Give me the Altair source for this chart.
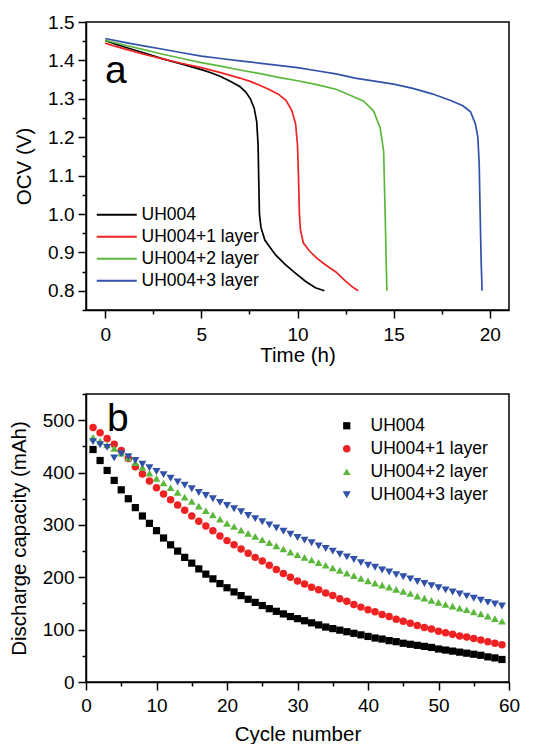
import altair as alt
import pandas as pd

FONT = "Liberation Sans"

series = ["UH004", "UH004+1 layer", "UH004+2 layer", "UH004+3 layer"]
colors = ["#000000", "#ee2222", "#5cb83c", "#3152a8"]
shapes = ["square", "circle", "triangle-up", "triangle-down"]
marker_sizes = [52, 64, 125, 125]

# ---- panel a: OCV vs time ----
t0 = [0, 0.5, 1, 2, 3, 4, 5, 5.5, 6, 6.5, 7, 7.3, 7.55, 7.75, 7.88, 7.95, 7.98, 8.02,
      8.1, 8.3, 8.85, 9.37, 9.89, 10.41, 10.93, 11.4]
v0 = [1.452, 1.443, 1.435, 1.420, 1.404, 1.390, 1.376, 1.368, 1.358, 1.346, 1.332, 1.318,
      1.300, 1.275, 1.240, 1.180, 1.100, 1.000, 0.965, 0.932, 0.894, 0.868, 0.846, 0.825,
      0.808, 0.800]
t1 = [0, 0.5, 1, 2, 3, 4, 5, 6, 7, 7.5, 8, 8.5, 9, 9.4, 9.7, 9.9, 10.0, 10.05, 10.1,
      10.15, 10.3, 10.6, 11.0, 11.5, 12.0, 12.4, 12.8, 13.15]
v1 = [1.445, 1.437, 1.430, 1.416, 1.404, 1.392, 1.381, 1.368, 1.354, 1.346, 1.336, 1.325,
      1.312, 1.296, 1.270, 1.235, 1.180, 1.100, 1.000, 0.960, 0.925, 0.905, 0.885, 0.866,
      0.849, 0.830, 0.812, 0.800]
t2 = [0, 1, 2, 3, 4, 5, 6, 7, 8, 9, 10, 11, 12, 12.8, 13.44, 13.96, 14.3, 14.48, 14.56,
      14.61, 14.65]
v2 = [1.452, 1.440, 1.428, 1.416, 1.405, 1.394, 1.385, 1.375, 1.366, 1.356, 1.347, 1.337,
      1.325, 1.308, 1.294, 1.268, 1.224, 1.163, 1.000, 0.880, 0.800]
t3 = [0, 1, 2, 3, 4, 5, 6, 7, 8, 9, 10, 11, 12, 13, 14, 15, 16, 17, 18, 18.6, 19.0, 19.25,
      19.38, 19.45, 19.5, 19.55, 19.6]
v3 = [1.457, 1.447, 1.438, 1.429, 1.420, 1.411, 1.405, 1.399, 1.393, 1.387, 1.381, 1.373,
      1.365, 1.354, 1.346, 1.338, 1.327, 1.313, 1.295, 1.282, 1.266, 1.235, 1.200, 1.130,
      1.000, 0.880, 0.800]

time_ticks = [0, 2.5, 5, 7.5, 10, 12.5, 15, 17.5, 20]
ocv_ticks = [0.75, 0.8, 0.85, 0.9, 0.95, 1.0, 1.05, 1.1, 1.15, 1.2, 1.25, 1.3, 1.35, 1.4,
             1.45, 1.5]

# ---- panel b: discharge capacity vs cycle ----
cycles = list(range(1, 60))
cap0 = [444, 423, 404, 385, 367, 350, 333, 317, 303, 289, 275, 262, 250, 238, 227, 216,
        206, 197, 188, 180, 172, 165, 158, 152, 146, 140, 135, 130, 125, 121, 117, 113,
        109, 105, 102, 99, 96, 93, 90, 87, 84, 82, 79, 77, 74, 72, 70, 68, 66, 63, 61,
        59, 57, 55, 53, 51, 48, 46, 43]
cap1 = [486, 476, 465, 454, 442, 427, 411, 397, 384, 371, 359, 348, 338, 328, 317, 307,
        298, 289, 279, 270, 262, 254, 246, 238, 231, 223, 215, 207, 200, 193, 187, 181,
        176, 170, 165, 159, 154, 148, 143, 138, 134, 129, 125, 120, 116, 112, 108, 104,
        101, 97, 94, 91, 88, 86, 83, 80, 77, 74, 71]
cap2 = [467, 460, 453, 446, 437, 428, 419, 410, 399, 389, 380, 371, 362, 353, 345, 336,
        327, 319, 311, 303, 297, 290, 284, 278, 272, 266, 260, 254, 248, 243, 238, 233,
        228, 223, 218, 213, 208, 203, 198, 193, 189, 185, 181, 177, 173, 169, 164, 160,
        156, 152, 148, 145, 141, 138, 134, 130, 126, 121, 116]
cap3 = [459, 453, 448, 428, 436, 430, 423, 416, 409, 402, 396, 389, 382, 376, 369, 362,
        356, 350, 343, 337, 331, 325, 318, 312, 306, 300, 294, 288, 282, 276, 271, 266,
        260, 255, 250, 244, 239, 234, 228, 223, 219, 214, 210, 205, 201, 197, 192, 188,
        184, 180, 176, 172, 168, 164, 160, 156, 152, 149, 145]

cycle_ticks = [0, 5, 10, 15, 20, 25, 30, 35, 40, 45, 50, 55, 60]
cap_ticks = [0, 50, 100, 150, 200, 250, 300, 350, 400, 450, 500, 550]

# ---- tables ----
rows = []
for name, ts, vs in zip(series, [t0, t1, t2, t3], [v0, v1, v2, v3]):
    for i, (t, v) in enumerate(zip(ts, vs)):
        rows.append({"series": name, "time": t, "ocv": v, "idx": i})
ocv_df = pd.DataFrame(rows)

rows = []
for name, caps in zip(series, [cap0, cap1, cap2, cap3]):
    for c, v in zip(cycles, caps):
        rows.append({"series": name, "cycle": c, "cap": v})
cap_df = pd.DataFrame(rows)


def tsize(test):
    return {"condition": {"test": test, "value": 8}, "value": 4}


W, H = 423, 288

# ---- top panel ----
x_a = alt.X("time:Q", scale=alt.Scale(domain=[-1, 21], nice=False, zero=False),
            axis=alt.Axis(values=time_ticks, title="Time (h)", labelPadding=7, titlePadding=1,
                          labelExpr="datum.value % 5 === 0 ? format(datum.value, 'd') : ''",
                          tickSize=tsize("datum.value % 5 === 0")))
y_a = alt.Y("ocv:Q", scale=alt.Scale(domain=[0.75, 1.5], nice=False, zero=False),
            axis=alt.Axis(values=ocv_ticks, title="OCV (V)", titlePadding=13,
                          labelExpr="abs(round(datum.value*100) % 10) === 0 ? format(datum.value, '.1f') : ''",
                          tickSize=tsize("abs(round(datum.value*100) % 10) === 0")))
leg_a = alt.Legend(orient="none", legendX=22, legendY=184, title=None,
                   labelFontSize=17.5, labelFont=FONT, symbolType="M-4,0L4,0",
                   symbolSize=100, symbolStrokeWidth=2, labelOffset=16, rowPadding=3,
                   padding=0)
lines = alt.Chart(ocv_df).mark_line(strokeWidth=1.7).encode(
    x=x_a, y=y_a,
    color=alt.Color("series:N", scale=alt.Scale(domain=series, range=colors), legend=leg_a),
    order="idx:Q",
)
lab_a = alt.Chart(pd.DataFrame({"t": ["a"]})).mark_text(
    font=FONT, fontSize=39, align="left", baseline="alphabetic", color="black"
).encode(text="t:N", x=alt.value(19), y=alt.value(61))
top = alt.layer(lines, lab_a).properties(width=W, height=H)

# ---- bottom panel ----
x_b = alt.X("cycle:Q", scale=alt.Scale(domain=[0, 60], nice=False, zero=False),
            axis=alt.Axis(values=cycle_ticks, title="Cycle number", labelPadding=6,
                          titlePadding=9,
                          labelExpr="datum.value % 10 === 0 ? format(datum.value, 'd') : ''",
                          tickSize=tsize("datum.value % 10 === 0")))
y_b = alt.Y("cap:Q", scale=alt.Scale(domain=[0, 550], nice=False, zero=False),
            axis=alt.Axis(values=cap_ticks, title="Discharge capacity (mAh)", titlePadding=13,
                          labelExpr="datum.value % 100 === 0 ? format(datum.value, 'd') : ''",
                          tickSize=tsize("datum.value % 100 === 0")))
leg_b = alt.Legend(orient="none", legendX=252, legendY=23, title=None,
                   labelFontSize=17.5, labelFont=FONT, labelOffset=15,
                   rowPadding=4, padding=0, symbolStrokeWidth=0)
pts = alt.Chart(cap_df).mark_point(filled=True, opacity=1).encode(
    x=x_b, y=y_b,
    color=alt.Color("series:N", scale=alt.Scale(domain=series, range=colors), legend=leg_b),
    shape=alt.Shape("series:N", scale=alt.Scale(domain=series, range=shapes), legend=leg_b),
    size=alt.Size("series:N", scale=alt.Scale(domain=series, range=marker_sizes),
                  legend=leg_b),
)
lab_b = alt.Chart(pd.DataFrame({"t": ["b"]})).mark_text(
    font=FONT, fontSize=39, align="left", baseline="alphabetic", color="black"
).encode(text="t:N", x=alt.value(21), y=alt.value(37))
bottom = alt.layer(pts, lab_b).properties(width=W, height=H)

chart = alt.vconcat(top, bottom, spacing=17).resolve_scale(
    color="independent", shape="independent", size="independent"
).resolve_legend(color="independent", shape="independent", size="independent").properties(
    padding={"left": 0, "top": 4, "right": 5, "bottom": 5}
).configure_view(
    stroke="black", strokeWidth=1.5
).configure_axis(
    grid=False, domainColor="black", domainWidth=1.5, tickColor="black", tickWidth=1.5,
    labelFont=FONT, labelFontSize=19, labelColor="black", labelPadding=4,
    labelOverlap=False, labelFlush=False,
    titleFont=FONT, titleFontSize=20.5, titleFontWeight="normal", titleColor="black",
    titlePadding=10,
).configure_legend(labelColor="black")

chart.save("out.html", embed_options={"renderer": "svg", "actions": False})
